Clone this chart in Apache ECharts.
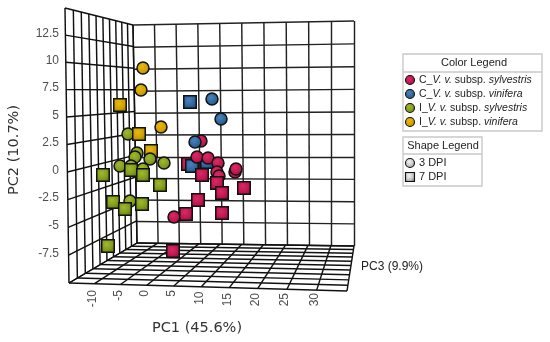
<!DOCTYPE html>
<html><head><meta charset="utf-8">
<style>html,body{margin:0;padding:0;background:#fff}#c{width:550px;height:342px}</style>
<script src="https://cdn.jsdelivr.net/npm/echarts@6/dist/echarts.min.js"></script>
</head><body><div id="c"></div>
<script>
// Values are [PC1, PC2] as seen projected on the back wall of the 3D box.
const redCircles=[[0.38,1.67],[-0.52,-0.11],[1.97,-0.22],[4.23,-0.78],[4.0,-1.78],[4.46,-2.22],[8.08,-1.78],[8.3,-1.44],[-5.72,-6.78]];
const redSquaresRear=[[-2.56,-0.89]];
const redSquares=[[0.61,-2.11],[4.0,-3.0],[10.11,-3.56],[5.14,-4.11],[-0.29,-4.89],[-3.01,-6.44],[5.14,-6.33],[-5.95,-10.56]];
const blueCircles=[[-0.97,1.56],[2.87,6.33],[4.91,4.11]];
const blueSquares=[[-2.1,6.0],[-1.65,-1.11],[1.74,-0.67]];
const greenCircles=[[-16.13,2.44],[-14.1,0.33],[-14.55,-0.11],[-11.15,-0.33],[-7.99,-0.78],[-17.94,-1.11],[-12.74,-1.44],[-15.45,-1.11],[-15.68,-5.0]];
const greenSquares=[[-21.79,-2.11],[-15.45,-1.56],[-12.74,-2.11],[-8.89,-3.22],[-19.52,-5.11],[-16.81,-5.89],[-12.96,-5.33],[-20.66,-10.0]];
const goldCircles=[[-12.74,9.78],[-13.19,7.33],[-8.67,3.22]];
const goldSquaresRear=[[-10.93,0.56]];
const goldSquares=[[-17.94,5.67],[-13.64,2.44]];
const pc1Ticks=['-10','-5','0','5','10','15','20','25','30'];
const pc2Ticks=['12.5','10','7.5','5','2.5','0','-2.5','-5','-7.5'];

const W=550,H=342;
const PX=4.42, PY=9;             // px per axis unit on the back wall
const X0=133, Y0=246;            // pixel of (-15,-10)
const toX=p=>-15+(p-X0)/PX, toY=p=>-10+(Y0-p)/PY;
const xMin=toX(0), xMax=toX(W), yMax=toY(0), yMin=toY(H);
const CELLS=10;

// Projective map of the unit square onto a quad (a,b,c,d = (0,0),(1,0),(1,1),(0,1))
function quadMap(a,b,c,d){
  const dx1=b[0]-c[0],dx2=d[0]-c[0],sx=a[0]-b[0]+c[0]-d[0];
  const dy1=b[1]-c[1],dy2=d[1]-c[1],sy=a[1]-b[1]+c[1]-d[1];
  const den=dx1*dy2-dx2*dy1;
  const g=(sx*dy2-dx2*sy)/den,h=(dx1*sy-sx*dy1)/den;
  const A=b[0]-a[0]+g*b[0],B=d[0]-a[0]+h*d[0],D=b[1]-a[1]+g*b[1],E=d[1]-a[1]+h*d[1];
  return (u,v)=>{const w=g*u+h*v+1;return [(A*u+B*v+a[0])/w,(D*u+E*v+a[1])/w];};
}
const backWall=quadMap([133,25],[354,21],[354,246],[137,243]);
const leftWall=quadMap([65,8],[133,25],[137,243],[69,283]);
const floor=quadMap([137,243],[354,246],[347,291],[69,283]);
const toData=p=>[toX(p[0]),toY(p[1])];
function wallLines(map){
  const out=[];
  for(let i=0;i<=CELLS;i++){
    const t=i/CELLS;
    out.push({coords:[toData(map(t,0)),toData(map(t,1))]});
    out.push({coords:[toData(map(0,t)),toData(map(1,t))]});
  }
  return out;
}
const gridLine=(name,map,color)=>({name,type:'lines',coordinateSystem:'cartesian2d',polyline:false,silent:true,z:1,
  lineStyle:{color,width:1.45,opacity:1},effect:{show:false},data:wallLines(map)});

function shade(light,mid,dark){
  return {type:'radial',x:0.42,y:0.38,r:0.72,colorStops:[{offset:0,color:light},{offset:0.55,color:mid},{offset:1,color:dark}]};
}
const RED=shade('#d92a66','#c2174f','#860e38'),BLUE=shade('#4a82ba','#2e669f','#1c4672'),
      GREEN=shade('#a0b92c','#829c1e','#54700f'),GOLD=shade('#e8b90c','#cfa103','#94740a'),GREY=shade('#f4f4f4','#c4c4c4','#6c6c6c');
const pts=(name,data,symbol,color)=>({name,type:'scatter',data,symbol,symbolSize:symbol==='circle'?12:12.5,z:3,clip:false,silent:true,
  itemStyle:{color,borderColor:'#111',borderWidth:1.5,opacity:1}});

// Tick labels follow the walls
const pc1Data=pc1Ticks.map((t,i)=>{const p=floor((i+1)/CELLS,1);return {value:toData([p[0]-2,290+(i>3?Math.min(3,(i-3)*1.5):0)]),label:{formatter:t}};});
const pc2Data=pc2Ticks.map((t,i)=>{const p=leftWall(0,(i+1)/CELLS);return {value:toData([59,p[1]-1.5]),label:{formatter:t}};});
const tickStyle={color:'#222',fontFamily:'"Liberation Sans",Arial,sans-serif',fontSize:12};

const F='"Liberation Sans",Arial,sans-serif';
const boxes=(x,y,w,h,hy)=>[
  {type:'rect',shape:{x,y,width:w,height:h},style:{fill:'#fff',stroke:'#c9c9c9',lineWidth:1.4}},
  {type:'line',shape:{x1:x,y1:hy,x2:x+w,y2:hy},style:{stroke:'#c9c9c9',lineWidth:1.4}}];
const txt=(x,y,text,o={})=>({type:'text',x,y,style:Object.assign({text,fill:'#222',fontFamily:F,fontSize:10.5,verticalAlign:'middle',align:'left'},o)});
const lg=(x,y,color,circle)=>circle
 ?{type:'circle',shape:{cx:x,cy:y,r:4.5},style:{fill:color,stroke:'#111',lineWidth:1.1}}
 :{type:'rect',shape:{x:x-4.5,y:y-4.5,width:9,height:9},style:{fill:color,stroke:'#111',lineWidth:1.1}};
const rich={i:{fontStyle:'italic',fontFamily:F,fontSize:10.5,color:'#222'},n:{fontFamily:F,fontSize:10.5,color:'#222'}};
const row=(y,color,pre,sub)=>[lg(410,y,color,true),txt(419,y,`{n|${pre}_}{i|V. v.}{n| subsp. }{i|${sub}}`,{rich})];

const elements=[
  ...boxes(403,54,139,77,72),
  txt(474,63,'Color Legend',{align:'center',fontSize:11}),
  ...row(80,RED,'C','sylvestris'),...row(94,BLUE,'C','vinifera'),...row(108,GREEN,'I','sylvestris'),...row(122,GOLD,'I','vinifera'),
  ...boxes(403,137,79,49,154),
  txt(443,146,'Shape Legend',{align:'center',fontSize:11}),
  lg(410,163,GREY,true),txt(419,163,'3 DPI',{fontSize:11}),
  lg(410,177,GREY,false),txt(419,177,'7 DPI',{fontSize:11}),
  {type:'text',x:14,y:150,rotation:Math.PI/2,style:{text:'PC2 (10.7%)',fill:'#333',fontFamily:'"DejaVu Sans",sans-serif',fontSize:14.5,align:'center',verticalAlign:'middle'}},
  {type:'text',x:197,y:328,style:{text:'PC1 (45.6%)',fill:'#333',fontFamily:'"DejaVu Sans",sans-serif',fontSize:14.5,align:'center',verticalAlign:'middle'}},
  {type:'text',x:361,y:267,style:{text:'PC3 (9.9%)',fill:'#222',fontFamily:F,fontSize:12,align:'left',verticalAlign:'middle'}}
];

const chart=echarts.init(document.getElementById('c'),null,{renderer:'canvas',width:W,height:H});
chart.setOption({
  animation:false,backgroundColor:'#fff',
  grid:{left:0,right:0,top:0,bottom:0},
  xAxis:{type:'value',min:xMin,max:xMax,show:false},
  yAxis:{type:'value',min:yMin,max:yMax,show:false},
  graphic:{elements},
  series:[
    gridLine('Back wall',backWall,'#222'),gridLine('Left wall',leftWall,'#111'),gridLine('Floor',floor,'#111'),
    {name:'PC1 ticks',type:'scatter',symbolSize:0,silent:true,data:pc1Data,label:{show:true,position:'inside',rotate:90,align:'right',verticalAlign:'middle',...tickStyle}},
    {name:'PC2 ticks',type:'scatter',symbolSize:0,silent:true,data:pc2Data,label:{show:true,position:'inside',align:'right',verticalAlign:'middle',...tickStyle}},
    pts('C sylvestris 7 DPI rear',redSquaresRear,'rect',RED),
    pts('C vinifera 7 DPI',blueSquares,'rect',BLUE),
    pts('C sylvestris 3 DPI',redCircles,'circle',RED),
    pts('C vinifera 3 DPI',blueCircles,'circle',BLUE),
    pts('C sylvestris 7 DPI',redSquares,'rect',RED),
    pts('I vinifera 7 DPI rear',goldSquaresRear,'rect',GOLD),
    pts('I sylvestris 3 DPI',greenCircles,'circle',GREEN),
    pts('I sylvestris 7 DPI',greenSquares,'rect',GREEN),
    pts('I vinifera 3 DPI',goldCircles,'circle',GOLD),
    pts('I vinifera 7 DPI',goldSquares,'rect',GOLD)
  ]
});
</script></body></html>
